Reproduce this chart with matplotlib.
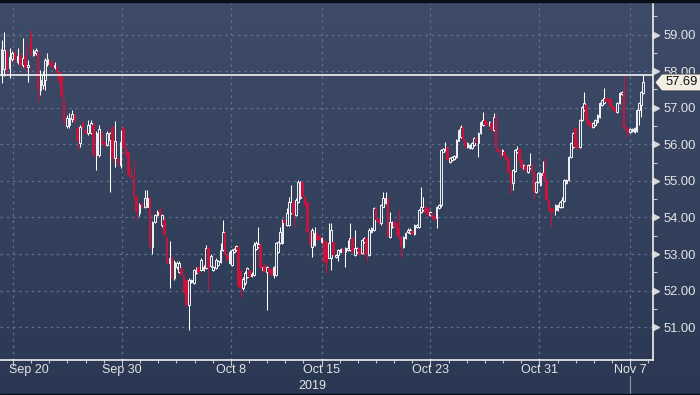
import numpy as np
import matplotlib.pyplot as plt
from matplotlib.colors import LinearSegmentedColormap
from matplotlib.patches import Polygon, Rectangle

plt.rcParams['font.family'] = ['Liberation Sans', 'DejaVu Sans']

# intraday bars, Sep 19 - Nov 8 2019
opens = [57.90, 58.05, 58.52, 58.08, 58.33, 58.49, 58.25, 58.44, 58.16, 58.38,
         58.12, 59.00, 58.44, 58.50, 58.52, 57.48, 57.62, 57.76, 58.20, 58.28,
         58.25, 58.10, 58.12, 57.98, 57.85, 57.20, 56.50, 56.52, 56.68, 56.80,
         56.45, 56.03, 56.58, 56.38, 56.30, 56.30, 56.53, 55.71, 55.71, 56.33,
         56.05, 55.98, 56.12, 56.47, 55.63, 55.63, 55.43, 56.45, 55.93, 55.78,
         55.16, 55.10, 54.55, 54.12, 54.38, 54.28, 54.30, 54.53, 53.20, 53.87,
         54.07, 54.20, 53.80, 53.93, 53.45, 52.76, 52.90, 52.35, 52.65, 52.51,
         52.62, 52.43, 52.29, 51.61, 52.24, 52.21, 52.48, 52.65, 52.57, 52.57,
         52.62, 53.18, 52.68, 52.57, 52.62, 52.70, 52.78, 53.11, 53.57, 52.98,
         52.76, 52.70, 53.06, 53.11, 53.20, 52.55, 52.08, 52.20, 52.38, 52.57,
         52.40, 52.43, 53.15, 53.20, 53.25, 52.57, 52.70, 52.51, 52.62, 52.60,
         52.43, 52.43, 53.06, 53.30, 53.30, 53.93, 53.80, 53.80, 54.12, 54.42,
         54.07, 54.42, 54.53, 54.97, 54.55, 54.42, 53.60, 53.20, 53.25, 53.57,
         53.50, 53.33, 53.39, 53.33, 52.90, 52.90, 53.33, 52.92, 52.98, 53.06,
         53.14, 53.06, 53.11, 53.11, 53.44, 52.98, 53.06, 53.17, 53.03, 53.33,
         53.44, 52.98, 53.60, 53.66, 54.26, 53.95, 53.84, 54.30, 54.40, 54.53,
         53.47, 53.75, 53.87, 53.84, 53.71, 53.47, 53.20, 53.44, 53.60, 53.57,
         53.63, 53.55, 53.75, 53.75, 54.15, 54.20, 54.29, 54.26, 54.07, 54.12,
         54.04, 53.98, 54.26, 54.34, 55.80, 55.84, 55.93, 55.52, 55.57, 55.60,
         55.65, 56.10, 56.20, 56.47, 56.12, 55.93, 55.90, 55.90, 55.98, 56.17,
         56.03, 56.30, 56.53, 56.66, 56.60, 56.53, 56.58, 56.39, 56.74, 55.90,
         55.85, 55.75, 55.80, 55.68, 55.60, 55.24, 54.94, 55.27, 55.80, 55.87,
         55.57, 55.35, 55.40, 55.24, 55.35, 55.43, 55.24, 54.70, 54.97, 54.89,
         55.16, 55.21, 55.02, 54.48, 54.26, 54.23, 54.20, 54.20, 54.29, 54.29,
         54.45, 54.94, 55.02, 55.65, 55.93, 56.44, 55.93, 55.93, 56.66, 56.94,
         57.07, 56.66, 56.58, 56.47, 56.53, 56.61, 56.74, 57.07, 57.13, 57.26,
         57.24, 57.24, 57.05, 56.99, 56.88, 57.13, 57.38, 57.43, 56.47, 56.42,
         56.33, 56.36, 56.33, 56.36, 56.94, 57.07, 57.40]
highs = [58.85, 59.07, 58.60, 58.63, 58.55, 58.55, 58.63, 58.50, 58.90, 58.77,
         58.30, 59.12, 58.60, 58.62, 58.55, 58.03, 58.00, 58.36, 58.50, 58.30,
         58.30, 58.25, 58.18, 58.00, 57.88, 57.22, 56.80, 56.85, 56.95, 56.85,
         56.50, 56.53, 56.65, 56.42, 56.66, 56.66, 56.60, 56.35, 56.53, 56.40,
         56.05, 56.35, 56.33, 56.50, 56.64, 55.65, 56.39, 56.50, 55.95, 55.80,
         55.38, 55.57, 54.60, 54.40, 54.40, 54.75, 54.75, 54.55, 53.90, 54.10,
         54.20, 54.28, 54.10, 54.00, 53.50, 53.35, 52.95, 52.84, 52.80, 52.80,
         52.65, 52.46, 52.30, 52.35, 52.32, 52.60, 52.65, 52.68, 52.89, 52.70,
         53.25, 53.22, 53.00, 52.68, 52.88, 52.84, 53.30, 53.93, 53.62, 53.00,
         53.10, 53.15, 53.18, 53.25, 53.22, 52.60, 52.38, 52.55, 52.65, 52.60,
         52.50, 53.33, 53.35, 53.75, 53.30, 52.68, 52.73, 52.68, 52.65, 52.62,
         52.68, 53.33, 53.36, 53.75, 53.97, 53.95, 54.26, 54.56, 54.89, 54.45,
         54.52, 55.02, 55.00, 55.00, 54.58, 54.45, 53.62, 53.70, 53.75, 53.60,
         53.52, 53.46, 53.42, 53.36, 53.84, 53.84, 53.36, 53.00, 53.14, 53.17,
         53.17, 53.20, 53.39, 53.84, 53.47, 53.66, 53.20, 53.20, 53.42, 53.47,
         53.47, 53.70, 53.74, 54.29, 54.29, 53.97, 54.38, 54.70, 54.70, 54.56,
         54.15, 53.90, 53.90, 53.87, 54.20, 53.50, 53.50, 53.60, 53.70, 53.70,
         53.66, 53.83, 53.83, 54.23, 54.83, 54.56, 54.32, 54.29, 54.18, 54.15,
         54.07, 54.32, 54.37, 55.88, 55.90, 56.06, 55.96, 55.66, 55.69, 55.71,
         56.15, 56.42, 56.53, 56.50, 56.14, 56.06, 56.01, 56.06, 56.20, 56.20,
         56.33, 56.63, 56.88, 56.70, 56.63, 56.63, 56.61, 56.85, 56.77, 55.93,
         55.88, 55.87, 55.83, 55.71, 55.63, 55.27, 55.33, 55.87, 55.95, 55.90,
         55.60, 55.46, 55.43, 55.46, 55.76, 55.46, 55.27, 55.00, 55.24, 55.24,
         55.54, 55.63, 55.05, 54.50, 54.29, 54.26, 54.37, 54.37, 54.45, 54.56,
         55.05, 55.05, 55.68, 56.06, 56.33, 56.47, 56.12, 56.69, 57.05, 57.43,
         57.10, 56.69, 56.61, 56.61, 56.69, 56.83, 57.16, 57.24, 57.54, 57.29,
         57.27, 57.27, 57.08, 57.02, 57.16, 57.43, 57.46, 57.89, 56.50, 56.45,
         56.45, 56.45, 56.47, 56.97, 57.16, 57.46, 57.89]
lows = [57.67, 57.87, 57.90, 57.81, 58.28, 58.25, 58.20, 58.10, 58.10, 57.98,
        57.70, 58.40, 58.40, 58.45, 57.15, 57.35, 57.50, 57.48, 58.15, 58.10,
        58.05, 58.05, 57.92, 57.68, 57.25, 56.53, 56.45, 56.45, 56.60, 56.55,
        55.85, 55.93, 56.40, 56.25, 56.25, 56.28, 55.65, 55.30, 55.65, 56.00,
        55.93, 55.95, 54.70, 55.55, 55.38, 55.40, 55.35, 55.90, 55.65, 55.10,
        55.05, 54.50, 53.93, 54.05, 54.25, 54.25, 54.28, 53.15, 53.00, 53.85,
        54.03, 54.03, 53.75, 53.50, 52.72, 52.08, 52.30, 52.30, 52.60, 52.48,
        52.40, 51.90, 51.58, 50.92, 52.20, 52.18, 52.45, 52.45, 52.55, 52.55,
        52.60, 52.02, 52.65, 52.55, 52.60, 52.68, 52.75, 53.08, 52.95, 52.80,
        52.72, 52.68, 53.03, 53.08, 52.10, 51.82, 52.02, 52.15, 52.35, 52.35,
        52.38, 52.40, 53.10, 53.18, 52.58, 52.55, 52.48, 51.47, 52.45, 52.40,
        52.35, 52.40, 53.03, 53.28, 53.28, 53.80, 53.78, 53.78, 54.10, 53.75,
        54.05, 54.40, 54.50, 54.52, 54.30, 53.57, 53.22, 52.92, 53.22, 53.35,
        53.35, 53.30, 52.75, 52.48, 52.88, 52.57, 52.95, 52.90, 52.80, 53.03,
        53.03, 52.65, 53.08, 53.08, 53.03, 52.95, 53.03, 52.95, 53.00, 53.30,
        52.80, 52.95, 53.57, 53.63, 53.90, 53.80, 53.80, 54.28, 54.38, 53.44,
        53.44, 53.72, 53.72, 53.50, 53.42, 52.92, 53.17, 53.42, 53.57, 53.55,
        53.52, 53.52, 53.72, 53.72, 54.12, 54.18, 54.10, 54.05, 54.05, 53.98,
        53.90, 53.71, 54.23, 54.30, 55.78, 55.82, 55.55, 55.50, 55.55, 55.58,
        55.63, 56.08, 56.18, 56.10, 55.90, 55.90, 55.87, 55.87, 55.95, 56.00,
        55.65, 56.28, 56.50, 56.50, 56.50, 56.50, 56.36, 56.36, 55.87, 55.75,
        55.63, 55.72, 55.65, 55.55, 55.18, 54.67, 54.75, 55.25, 55.77, 55.52,
        55.33, 55.33, 55.25, 55.21, 55.33, 55.21, 54.53, 54.67, 54.94, 54.86,
        55.14, 54.99, 54.45, 54.18, 53.75, 54.12, 54.07, 54.18, 54.26, 54.26,
        54.42, 54.91, 54.99, 55.63, 55.90, 55.90, 55.84, 55.90, 56.64, 56.91,
        56.64, 56.50, 56.44, 56.44, 56.50, 56.58, 56.72, 57.05, 57.10, 57.13,
        57.16, 56.99, 56.91, 56.85, 56.85, 57.10, 57.35, 56.41, 56.20, 56.30,
        56.30, 56.33, 56.30, 56.33, 56.53, 56.75, 57.38]
closes = [58.60, 58.58, 58.03, 58.38, 58.49, 58.30, 58.41, 58.16, 58.35, 58.08,
          58.18, 58.44, 58.55, 58.58, 57.48, 57.76, 57.90, 58.30, 58.32, 58.18,
          58.12, 58.16, 57.95, 57.70, 57.28, 56.58, 56.72, 56.72, 56.82, 56.62,
          56.10, 56.47, 56.44, 56.30, 56.52, 56.58, 55.71, 56.30, 56.42, 56.03,
          55.98, 56.30, 56.30, 55.63, 56.10, 55.43, 56.06, 55.93, 55.71, 55.16,
          55.10, 54.55, 54.15, 54.34, 54.30, 54.53, 54.53, 53.20, 53.87, 54.07,
          54.15, 54.07, 54.07, 53.52, 52.76, 52.90, 52.35, 52.79, 52.76, 52.76,
          52.43, 51.93, 51.61, 52.29, 52.29, 52.57, 52.62, 52.48, 52.84, 52.65,
          53.18, 52.62, 52.95, 52.65, 52.84, 52.80, 53.11, 53.60, 52.98, 52.84,
          53.06, 53.11, 53.15, 53.22, 52.12, 52.08, 52.33, 52.48, 52.62, 52.38,
          52.46, 53.25, 53.30, 53.28, 52.62, 52.65, 52.51, 52.65, 52.48, 52.43,
          52.65, 53.30, 53.33, 53.60, 53.93, 53.85, 54.12, 54.42, 54.42, 54.07,
          54.48, 54.97, 54.97, 54.55, 54.34, 53.60, 53.25, 53.66, 53.57, 53.39,
          53.39, 53.43, 52.79, 52.76, 53.30, 53.66, 52.98, 52.98, 53.11, 53.14,
          53.06, 53.17, 53.17, 53.44, 53.06, 53.17, 53.17, 52.98, 53.39, 53.44,
          52.98, 53.66, 53.71, 54.26, 53.93, 53.84, 54.34, 54.53, 54.53, 53.47,
          53.87, 53.87, 53.75, 53.52, 53.44, 53.20, 53.47, 53.57, 53.66, 53.66,
          53.55, 53.80, 53.80, 54.20, 54.29, 54.29, 54.12, 54.07, 54.15, 54.01,
          53.93, 54.29, 54.34, 55.84, 55.87, 55.90, 55.57, 55.63, 55.66, 55.68,
          56.12, 56.39, 56.47, 56.12, 55.93, 56.03, 55.98, 56.03, 56.17, 56.03,
          56.30, 56.60, 56.66, 56.53, 56.53, 56.60, 56.39, 56.74, 55.90, 55.80,
          55.78, 55.84, 55.68, 55.57, 55.21, 54.94, 55.30, 55.84, 55.87, 55.54,
          55.35, 55.43, 55.27, 55.43, 55.43, 55.24, 54.70, 54.97, 55.21, 55.21,
          55.21, 55.02, 54.48, 54.20, 54.15, 54.15, 54.34, 54.34, 54.42, 54.48,
          55.02, 55.02, 55.65, 56.03, 56.30, 55.93, 55.90, 56.66, 57.02, 57.13,
          56.66, 56.53, 56.47, 56.58, 56.66, 56.80, 57.13, 57.21, 57.26, 57.16,
          57.21, 57.02, 56.94, 56.88, 57.13, 57.40, 57.43, 56.44, 56.39, 56.33,
          56.42, 56.42, 56.44, 56.94, 57.13, 57.43, 57.69]

# bar timing: bar number -> trading day (0 = Sep 20), read at known bars
time_bar = [0, 11, 25, 42, 57, 73, 87, 107, 121, 159, 183, 208, 234, 267, 276]
time_day = [-0.63, 0.99, 2.81, 5.34, 7.55, 9.70, 11.57, 13.99, 15.70, 20.66,
            23.58, 26.61, 29.64, 33.66, 34.71]

date_labels = ['Sep 20', 'Sep 30', 'Oct 8', 'Oct 15', 'Oct 23', 'Oct 31', 'Nov 7']
date_days = [0, 6, 12, 17, 23, 29, 34]      # trading days after Sep 20
year_label = '2019'
high_line = 57.88
price_ticks = np.arange(51, 60)

BG_TOP = '#3f4c69'
BG_BOTTOM = '#2a3853'
UP = '#ffffff'
DOWN = '#c8143c'
TXT = '#e4e4e4'
GRID = '#62708e'

o = np.array(opens)
h = np.array(highs)
l = np.array(lows)
c = np.array(closes)
x = np.interp(np.arange(len(c)), time_bar, time_day)
up = c >= o
top = np.maximum(o, c)
bot = np.minimum(o, c)

fig = plt.figure(figsize=(7, 3.95), dpi=100)

# background gradient + dark borders
bg = fig.add_axes([0, 0, 1, 1], zorder=-10)
cmap = LinearSegmentedColormap.from_list('bg', [BG_TOP, BG_BOTTOM])
bg.imshow(np.linspace(0, 1, 256).reshape(-1, 1), aspect='auto', cmap=cmap,
          extent=[0, 1, 0, 1])
bg.axis('off')
fig.patches.append(Rectangle((0, 1 - 2 / 395), 1, 2 / 395, transform=fig.transFigure,
                             color='#0a0d14', zorder=10))
fig.patches.append(Rectangle((0, 0), 1, 1.5 / 395, transform=fig.transFigure,
                             color='#0a0d14', zorder=10))

ax = fig.add_axes([0, 35 / 395, 653 / 700, 358 / 395])
ax.set_facecolor('none')
ax.set_xlim(-13 / 18.15, 640 / 18.15)
ax.set_ylim(59 - 325.5 / 36.6, 59 + 32.5 / 36.6)

# grid
for d in date_days:
    ax.axvline(d, color=GRID, lw=0.9, ls=(0, (2, 3)), zorder=1)
for p in price_ticks:
    ax.axhline(p, color=GRID, lw=0.9, ls=(0, (2, 3)), zorder=1)

# candles
wick_col = np.where(up, UP, DOWN)
ax.vlines(x, top, h, colors=wick_col, lw=0.75, zorder=3)
ax.vlines(x, l, bot, colors=wick_col, lw=0.75, zorder=3)
ax.bar(x[up], np.maximum(c - o, 0.02)[up], bottom=o[up], width=0.09,
       facecolor='none', edgecolor=UP, linewidth=0.65, zorder=3)
ax.bar(x[~up], (o - c)[~up], bottom=c[~up], width=0.14, color=DOWN,
       linewidth=0, zorder=3)

ax.axhline(high_line, color='white', lw=1.1, zorder=4)

# spines
for s in ['left', 'top']:
    ax.spines[s].set_visible(False)
for s in ['right', 'bottom']:
    ax.spines[s].set_color('#f0f0f0')
    ax.spines[s].set_linewidth(1.2)

# y axis on the right
ax.yaxis.tick_right()
ax.set_yticks(price_ticks)
ax.set_yticklabels([f'{p:.2f}' for p in price_ticks])
ax.set_yticks(list(price_ticks[:-1] + 0.5) + [59.5], minor=True)
ax.tick_params(axis='y', which='major', length=0, pad=7.5, labelsize=9.4, labelcolor=TXT)
ax.tick_params(axis='y', which='minor', length=3, width=0.8, color='#c8c8c8')
ax.plot(np.full(len(price_ticks), 1.0045), price_ticks, ls='none', marker='>',
        ms=4.2, color='#d8d8d8', transform=ax.get_yaxis_transform(), clip_on=False)

# x axis
ax.set_xticks(date_days)
ax.set_xticklabels([])
ax.set_xticks(np.arange(0, 36), minor=True)
ax.tick_params(axis='x', which='major', length=4, width=0.8, color='#c8c8c8')
ax.tick_params(axis='x', which='minor', length=2, width=0.8, color='#c8c8c8')
xt = ax.get_xaxis_transform()
for i, (d, lab) in enumerate(zip(date_days, date_labels)):
    if i == 0:
        ax.text(d - 0.22, -0.028, lab, transform=xt, ha='left', va='center',
                fontsize=9, color=TXT, clip_on=False)
    else:
        ax.text(d, -0.028, lab, transform=xt, ha='center', va='center',
                fontsize=9, color=TXT, clip_on=False)
ax.text(16.5, -0.0726, year_label, transform=xt, ha='center', va='center',
        fontsize=9, color=TXT, clip_on=False)
ax.plot([date_days[-1], date_days[-1]], [-0.045, -0.1], transform=xt,
        color='#8a94a8', lw=0.8, clip_on=False)

# last price tag
yt = ax.get_yaxis_transform()
last = c[-1]
tag = Polygon([(1.003, last), (1.0135, last + 0.23), (1.075, last + 0.23),
               (1.075, last - 0.23), (1.0135, last - 0.23)], closed=True,
              transform=yt, facecolor='#f3eee3', edgecolor='#444444', lw=0.6,
              clip_on=False, zorder=6)
ax.add_patch(tag)
ax.text(1.044, last, f'{last:.2f}', transform=yt, ha='center', va='center',
        fontsize=9.4, color='#111111', clip_on=False, zorder=7)

fig.savefig('out.png', dpi=100)
